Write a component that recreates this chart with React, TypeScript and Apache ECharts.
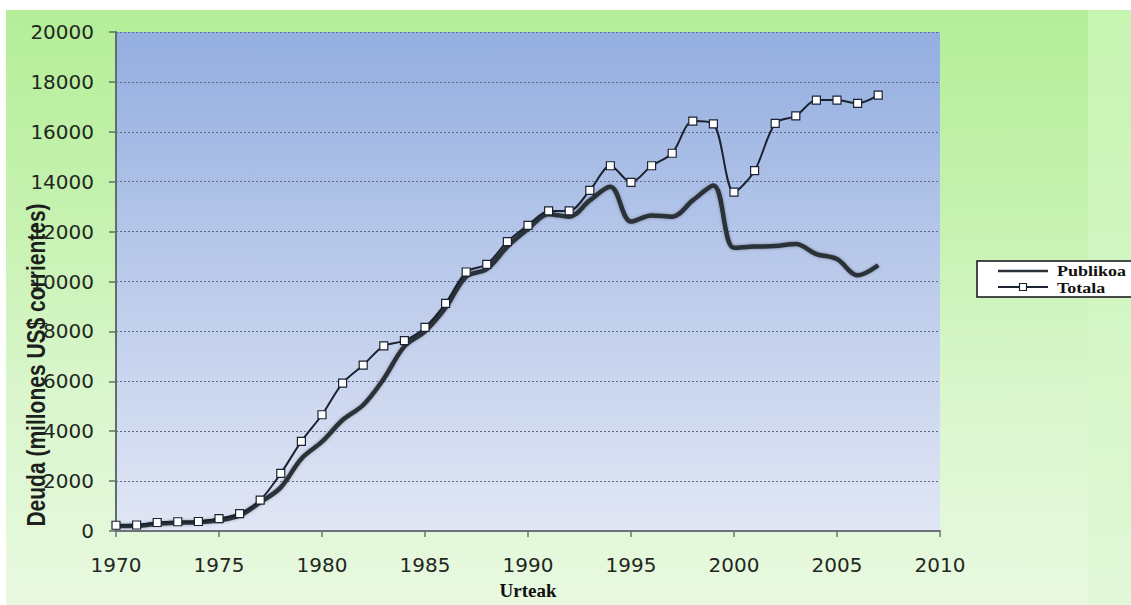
import React, { useEffect, useRef } from "react";
import * as echarts from "echarts";

// Deuda externa, millones de US$ corrientes
const years = [
  1970, 1971, 1972, 1973, 1974, 1975, 1976, 1977, 1978, 1979,
  1980, 1981, 1982, 1983, 1984, 1985, 1986, 1987, 1988, 1989,
  1990, 1991, 1992, 1993, 1994, 1995, 1996, 1997, 1998, 1999,
  2000, 2001, 2002, 2003, 2004, 2005, 2006, 2007,
];

const publikoa = [
  200, 210, 290, 330, 350, 430, 620, 1150, 1750, 2900,
  3580, 4450, 5050, 6100, 7400, 8000, 8950, 10200, 10500, 11400,
  12100, 12700, 12600, 13250, 13800, 12400, 12650, 12600, 13250, 13850,
  11350, 11400, 11420, 11500, 11100, 10900, 10250, 10650,
];

const totala = [
  230, 240, 340, 370, 380, 500, 700, 1240, 2310, 3590,
  4660, 5930, 6650, 7420, 7630, 8160, 9120, 10380, 10690, 11600,
  12250, 12830, 12830, 13650, 14640, 13970, 14640, 15140, 16430, 16320,
  13580, 14440, 16340, 16640, 17270, 17270, 17140, 17470,
];

const yTicks = { min: 0, max: 20000, interval: 2000 };
const xTicks = { min: 1970, max: 2010, interval: 5 };

const seriesNames = ["Publikoa", "Totala"];
const yAxisTitle = "Deuda (millones US$ corrientes)";
const xAxisTitle = "Urteak";

const LINE_DARK = "#2a3038";
const LINE_TOTAL = "#1b2232";

export default function App() {
  const ref = useRef<HTMLDivElement>(null);

  useEffect(() => {
    if (!ref.current) return;
    const chart = echarts.init(ref.current, undefined, { renderer: "svg" });

    const tickFont = {
      fontFamily: "DejaVu Sans",
      fontSize: 20,
      color: "#23271f",
      formatter: (v: number) => String(v),
    };

    const legendText = {
      fontFamily: "Liberation Serif",
      fontWeight: "bold",
      fontSize: 15,
      fill: "#111111",
      textVerticalAlign: "middle",
    };

    chart.setOption({
      animation: false,
      backgroundColor: "transparent",
      grid: {
        left: 116,
        right: 191,
        top: 32,
        bottom: 68,
        show: true,
        borderWidth: 0,
        backgroundColor: {
          type: "linear",
          x: 0,
          y: 0,
          x2: 0,
          y2: 1,
          colorStops: [
            { offset: 0, color: "#93aee0" },
            { offset: 0.5, color: "#bccbeb" },
            { offset: 1, color: "#e0e6f4" },
          ],
        },
      },
      xAxis: {
        type: "value",
        min: xTicks.min,
        max: xTicks.max,
        interval: xTicks.interval,
        name: xAxisTitle,
        nameLocation: "middle",
        nameGap: 50,
        nameTextStyle: {
          fontFamily: "Liberation Serif",
          fontWeight: "bold",
          fontSize: 19,
          color: "#111111",
        },
        axisLine: { show: true, lineStyle: { color: "#6a7478", width: 2 } },
        axisTick: {
          show: true,
          length: 6,
          lineStyle: { color: "#6a7478", width: 1.5 },
        },
        axisLabel: { ...tickFont, margin: 24 },
        splitLine: { show: false },
      },
      yAxis: {
        type: "value",
        min: yTicks.min,
        max: yTicks.max,
        interval: yTicks.interval,
        axisLine: { show: true, lineStyle: { color: "#5f6e6a", width: 2 } },
        axisTick: {
          show: true,
          length: 7,
          lineStyle: { color: "#5f6e6a", width: 1.5 },
        },
        axisLabel: { ...tickFont, margin: 22 },
        splitLine: {
          show: true,
          lineStyle: { color: "#5c6a8c", width: 1.2, type: [2, 2] },
        },
      },
      graphic: [
        {
          type: "text",
          x: 36,
          y: 365,
          rotation: Math.PI / 2,
          scaleY: 1.25,
          style: {
            text: yAxisTitle,
            fontFamily: "Liberation Sans",
            fontWeight: "bold",
            fontSize: 21,
            fill: "#1c1f1c",
            textAlign: "center",
            textVerticalAlign: "middle",
          },
          z: 100,
        },
        // legend box, running off the right edge of the page
        {
          type: "group",
          z: 100,
          children: [
            {
              type: "rect",
              shape: { x: 977, y: 261, width: 180, height: 36 },
              style: { fill: "#ffffff", stroke: "#111111", lineWidth: 1.5 },
            },
            {
              type: "line",
              shape: { x1: 998, y1: 271, x2: 1048, y2: 271 },
              style: { stroke: LINE_DARK, lineWidth: 2.5 },
            },
            {
              type: "line",
              shape: { x1: 998, y1: 287, x2: 1048, y2: 287 },
              style: { stroke: LINE_TOTAL, lineWidth: 2 },
            },
            {
              type: "rect",
              shape: { x: 1019.5, y: 283.5, width: 7, height: 7 },
              style: { fill: "#ffffff", stroke: LINE_TOTAL, lineWidth: 1.2 },
            },
            {
              type: "text",
              x: 1057,
              y: 271,
              scaleX: 1.2,
              style: { ...legendText, text: seriesNames[0] },
            },
            {
              type: "text",
              x: 1057,
              y: 288,
              scaleX: 1.2,
              style: { ...legendText, text: seriesNames[1] },
            },
          ],
        },
      ],
      series: [
        {
          name: seriesNames[0],
          type: "line",
          data: years.map((y, i) => [y, publikoa[i]]),
          smooth: 0.35,
          symbol: "none",
          lineStyle: {
            color: LINE_DARK,
            width: 4.5,
            shadowColor: "rgba(20,25,35,0.35)",
            shadowBlur: 3,
          },
          itemStyle: { color: LINE_DARK },
          z: 2,
        },
        {
          name: seriesNames[1],
          type: "line",
          data: years.map((y, i) => [y, totala[i]]),
          smooth: 0.3,
          symbol: "rect",
          symbolSize: 8,
          showAllSymbol: true,
          lineStyle: { color: LINE_TOTAL, width: 2 },
          itemStyle: {
            color: "#ffffff",
            borderColor: LINE_TOTAL,
            borderWidth: 1.2,
          },
          z: 3,
        },
      ],
    });

    return () => chart.dispose();
  }, []);

  return (
    <div
      style={{
        position: "fixed",
        left: 0,
        top: 0,
        width: 1131,
        height: 605,
        background: "#ffffff",
        overflow: "hidden",
      }}
    >
      <div
        style={{
          position: "absolute",
          left: 6,
          top: 10,
          right: 0,
          bottom: 0,
          background:
            "linear-gradient(180deg, #b4ee98 0%, #c6f2b0 35%, #daf6cd 65%, #e8f9e0 100%)",
        }}
      />
      <div
        style={{
          position: "absolute",
          left: 1088,
          top: 10,
          width: 43,
          bottom: 0,
          background:
            "linear-gradient(180deg, #c6f4b1 0%, #d4f6c4 50%, #e2f8d9 100%)",
        }}
      />
      <div
        ref={ref}
        style={{ position: "absolute", left: 0, top: 0, width: 1131, height: 605 }}
      />
    </div>
  );
}
